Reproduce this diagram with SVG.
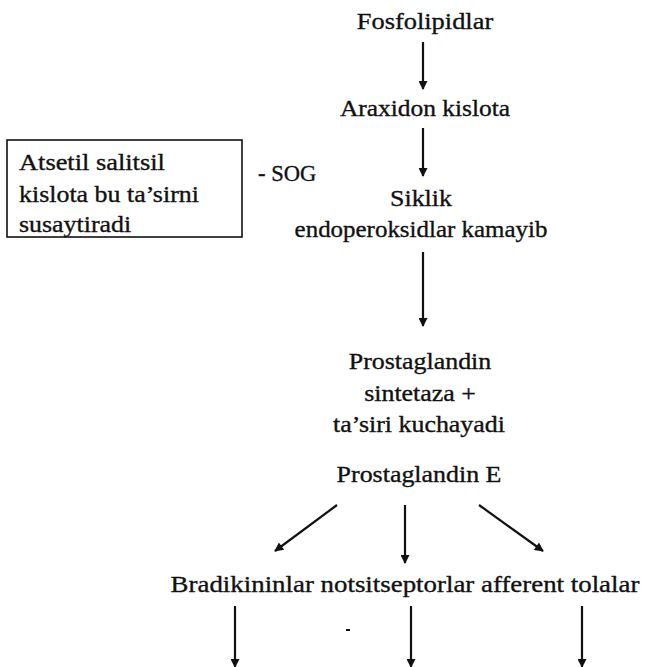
<svg xmlns="http://www.w3.org/2000/svg" width="649" height="667" viewBox="0 0 649 667">
  <style>
    text { font-family: "Liberation Serif", "Times New Roman", serif; font-size: 24px; fill: #111; stroke: #111; stroke-width: 0.35; }
    .c { text-anchor: middle; }
    .edge { stroke: #111; stroke-width: 2.2; fill: none; marker-end: url(#arrow); }
    .box { fill: #fff; stroke: #111; stroke-width: 1.6; }
  </style>
  <defs>
    <marker id="arrow" viewBox="0 0 10 10" refX="9" refY="5" markerWidth="12" markerHeight="9" markerUnits="userSpaceOnUse" orient="auto">
      <path d="M0,0 L10,5 L0,10 Z" fill="#111"/>
    </marker>
  </defs>
  <rect width="649" height="667" fill="#fff"/>

  <g id="fosfolipidlar"><text class="c" transform="translate(425,29) scale(1.1,1)">Fosfolipidlar</text></g>
  <g id="araxidon"><text class="c" transform="translate(425,116) scale(1.06,1)">Araxidon kislota</text></g>
  <g id="aspirin-note">
    <rect class="box" x="7" y="140" width="235" height="97"/>
    <text transform="translate(19,170) scale(1.1,1)">Atsetil salitsil</text>
    <text transform="translate(19,202) scale(1.08,1)">kislota bu ta’sirni</text>
    <text transform="translate(19,232) scale(1.08,1)">susaytiradi</text>
  </g>
  <g id="sog"><text transform="translate(258,181) scale(0.94,1)">- SOG</text></g>
  <g id="siklik">
    <text class="c" transform="translate(421,206) scale(1.08,1)">Siklik</text>
    <text class="c" transform="translate(421,237) scale(1.04,1)">endoperoksidlar kamayib</text>
  </g>
  <g id="sintetaza">
    <text class="c" transform="translate(420,369) scale(1.08,1)">Prostaglandin</text>
    <text class="c" transform="translate(420,401) scale(1.08,1)">sintetaza +</text>
    <text class="c" transform="translate(419,432) scale(1.08,1)">ta’siri kuchayadi</text>
  </g>
  <g id="prostaglandin-e"><text class="c" transform="translate(419,482) scale(1.08,1)">Prostaglandin E</text></g>
  <g id="targets"><text class="c" transform="translate(405,592) scale(1.12,1)">Bradikininlar notsitseptorlar afferent tolalar</text></g>
  <g id="dash"><rect x="346" y="629" width="4" height="2" fill="#111"/></g>

  <g id="connectors">
    <line class="edge" x1="423" y1="42" x2="423" y2="89"/>
    <line class="edge" x1="423" y1="128" x2="423" y2="176"/>
    <line class="edge" x1="423" y1="252" x2="423" y2="326"/>
    <line class="edge" x1="337" y1="505" x2="275" y2="551"/>
    <line class="edge" x1="405" y1="505" x2="405" y2="563"/>
    <line class="edge" x1="479" y1="505" x2="543" y2="551"/>
    <line class="edge" x1="235" y1="606" x2="235" y2="667"/>
    <line class="edge" x1="411" y1="606" x2="411" y2="667"/>
    <line class="edge" x1="582" y1="606" x2="582" y2="667"/>
  </g>
</svg>
